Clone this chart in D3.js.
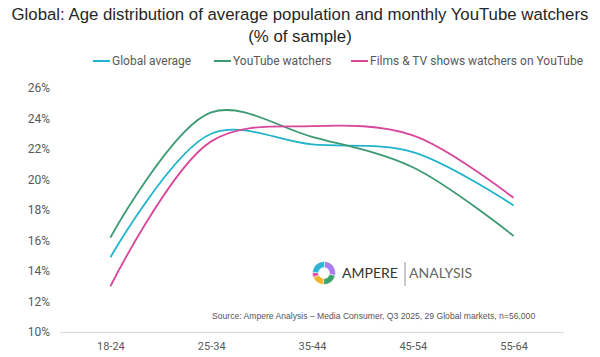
<!DOCTYPE html>
<html>
<head>
<meta charset="utf-8">
<script src="https://cdn.jsdelivr.net/npm/d3@7"></script>
<style>
  html, body { margin: 0; padding: 0; background: #fff; }
  svg { display: block; }
</style>
</head>
<body>
<svg id="chart" width="600" height="357"></svg>
<script>
const categories = ["18-24", "25-34", "35-44", "45-54", "55-64"];
const globalAverage = [14.9, 23.0, 22.3, 21.8, 18.3];
const youtubeWatchers = [16.2, 24.4, 22.8, 20.8, 16.3];
const filmsTvWatchers = [13.0, 22.5, 23.5, 22.9, 18.8];
const seriesNames = ["Global average", "YouTube watchers", "Films & TV shows watchers on YouTube"];
const yTicks = [10, 12, 14, 16, 18, 20, 22, 24, 26];
const titleLines = ["Global: Age distribution of average population and monthly YouTube watchers", "(% of sample)"];
const sourceText = "Source: Ampere Analysis \u2013 Media Consumer, Q3 2025, 29 Global markets, n=56,000";
const logoSegments = [28, 22, 18, 7, 25];

const colors = ["#21b3cb", "#3b9a72", "#d8479c"];
const series = [globalAverage, youtubeWatchers, filmsTvWatchers];

const svg = d3.select("#chart");
const margin = { left: 60, right: 36, top: 88, bottom: 25 };
const W = 600, H = 357;

const x = d3.scalePoint().domain(categories).range([margin.left, W - margin.right]).padding(0.5);
const y = d3.scaleLinear().domain([10, 26]).range([H - margin.bottom, margin.top]);

// Title
svg.selectAll("text.title").data(titleLines).enter().append("text")
  .attr("class", "title")
  .attr("x", 300).attr("y", (d, i) => 20 + i * 22)
  .attr("text-anchor", "middle")
  .attr("font-family", "Liberation Sans, Arial, sans-serif")
  .attr("font-size", 16.8)
  .attr("fill", "#262626")
  .text(d => d);

// Legend
const legendX = [93, 214, 351];
const legend = svg.append("g");
seriesNames.forEach((name, i) => {
  legend.append("line")
    .attr("x1", legendX[i]).attr("x2", legendX[i] + 17)
    .attr("y1", 61).attr("y2", 61)
    .attr("stroke", colors[i]).attr("stroke-width", 2);
  legend.append("text")
    .attr("x", legendX[i] + 19).attr("y", 65)
    .attr("font-family", "Roboto, sans-serif")
    .attr("font-size", 12)
    .attr("fill", "#595959")
    .text(name);
});

// Y axis
const yAxis = d3.axisLeft(y).tickValues(yTicks).tickFormat(d => d + "%").tickSize(0).tickPadding(10);
const gy = svg.append("g").attr("transform", `translate(${margin.left},0)`).call(yAxis);
gy.select(".domain").remove();
gy.selectAll("text")
  .attr("font-family", "Roboto, sans-serif")
  .attr("font-size", 12)
  .attr("fill", "#595959");

// X axis
const xAxis = d3.axisBottom(x).tickSize(0).tickPadding(10);
const gx = svg.append("g").attr("transform", `translate(0,${y(10)})`).call(xAxis);
gx.select(".domain").attr("stroke", "#d9d9d9").attr("stroke-width", 1)
  .attr("d", `M${margin.left},0.5H${W - margin.right}`);
gx.selectAll("text")
  .attr("font-family", "Roboto, sans-serif")
  .attr("font-size", 11)
  .attr("fill", "#595959");

// Lines
const line = d3.line()
  .x((d, i) => x(categories[i]))
  .y(d => y(d))
  .curve(d3.curveCatmullRom.alpha(0.5));

series.forEach((s, i) => {
  svg.append("path")
    .datum(s)
    .attr("d", line)
    .attr("fill", "none")
    .attr("stroke", colors[i])
    .attr("stroke-width", 1.8);
});

// Logo
const logo = svg.append("g").attr("transform", "translate(324,273)");
const logoColors = ["#a87ef0", "#3da36e", "#f2b52e", "#e0529a", "#2bb6d6"];
const pie = d3.pie().sort(null).startAngle(0.05).endAngle(2 * Math.PI + 0.05);
const arc = d3.arc().innerRadius(5.5).outerRadius(11.5);
logo.selectAll("path").data(pie(logoSegments)).enter().append("path")
  .attr("d", arc)
  .attr("fill", (d, i) => logoColors[i])
  .attr("stroke", "#fff").attr("stroke-width", 0.5);
svg.append("text")
  .attr("x", 342).attr("y", 278)
  .attr("font-family", "Lato, sans-serif")
  .attr("font-size", 14)
  .attr("fill", "#333")
  .text("AMPERE");
svg.append("line")
  .attr("x1", 405).attr("x2", 405).attr("y1", 262).attr("y2", 286)
  .attr("stroke", "#777").attr("stroke-width", 0.8);
svg.append("text")
  .attr("x", 409).attr("y", 278)
  .attr("font-family", "Lato, sans-serif")
  .attr("font-size", 14)
  .attr("fill", "#666")
  .text("ANALYSIS");

// Source
svg.append("text")
  .attr("x", 212).attr("y", 319)
  .attr("font-family", "Liberation Sans, Arial, sans-serif")
  .attr("font-size", 8.6)
  .attr("fill", "#555")
  .text(sourceText);
</script>
</body>
</html>
